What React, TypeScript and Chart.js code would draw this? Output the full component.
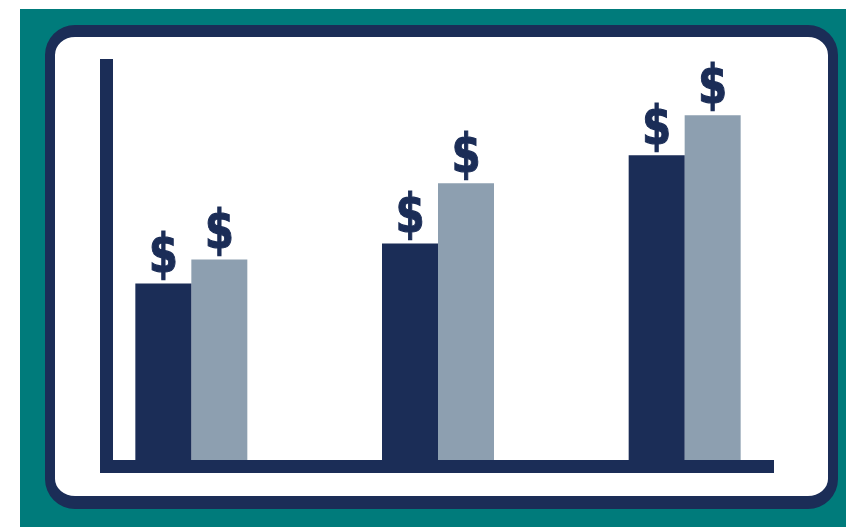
import React, { useEffect, useRef } from "react";
import { Chart, registerables } from "chart.js";

Chart.register(...registerables);

const categories = ["Year 1", "Year 2", "Year 3"];
const seriesA = [44, 54, 76];
const seriesB = [50, 69, 86];
const yMax = 100;

const NAVY = "#1b2d57";
const LIGHT = "#8d9fb0";
const TEAL = "#007b7b";

const decorPlugin = {
  id: "decor",
  afterDatasetsDraw(chart: any) {
    const { ctx, chartArea } = chart;
    ctx.save();
    // axis lines
    ctx.fillStyle = NAVY;
    const axisLeft = chartArea.left + 32;
    const axisW = 13;
    ctx.fillRect(axisLeft, chartArea.top, axisW, chartArea.bottom - chartArea.top + axisW);
    ctx.fillRect(axisLeft, chartArea.bottom, chartArea.right - 34 - axisLeft, axisW);
    // dollar signs
    ctx.font = "bold 56px 'DejaVu Sans', sans-serif";
    const m = ctx.measureText("$");
    const asc = m.actualBoundingBoxAscent;
    const desc = m.actualBoundingBoxDescent;
    const wid = m.actualBoundingBoxLeft + m.actualBoundingBoxRight;
    const sy = 49 / (asc + desc);
    const sx = 24 / wid;
    ctx.textAlign = "center";
    ctx.textBaseline = "alphabetic";
    ctx.strokeStyle = NAVY;
    ctx.lineWidth = 1.2;
    chart.data.datasets.forEach((_: any, di: number) => {
      const meta = chart.getDatasetMeta(di);
      meta.data.forEach((el: any) => {
        ctx.save();
        ctx.translate(el.x, el.y - 3 - desc * sy);
        ctx.scale(sx, sy);
        ctx.fillText("$", 0, 0);
        ctx.strokeText("$", 0, 0);
        ctx.restore();
      });
    });
    ctx.restore();
  },
};

export default function App() {
  const ref = useRef<HTMLCanvasElement>(null);
  useEffect(() => {
    if (!ref.current) return;
    const chart = new Chart(ref.current, {
      type: "bar",
      data: {
        labels: categories,
        datasets: [
          { label: "A", data: seriesA, backgroundColor: NAVY, borderWidth: 0 },
          { label: "B", data: seriesB, backgroundColor: LIGHT, borderWidth: 0 },
        ],
      },
      options: {
        responsive: false,
        animation: false,
        layout: { padding: { left: 68, right: 38, top: 59, bottom: 67 } },
        datasets: { bar: { barPercentage: 1, categoryPercentage: 0.454 } },
        plugins: { legend: { display: false }, tooltip: { enabled: false } },
        scales: {
          x: { display: false },
          y: { display: false, min: 0, max: yMax },
        },
      },
      plugins: [decorPlugin],
    });
    return () => chart.destroy();
  }, []);

  return (
    <div style={{ position: "fixed", left: 0, top: 0, width: 846, height: 527, background: "#fff", overflow: "hidden" }}>
      <div style={{ position: "absolute", left: 20, top: 9, right: 0, bottom: 0, background: TEAL }} />
      <div
        style={{
          position: "absolute",
          left: 45,
          top: 25,
          width: 838 - 45,
          height: 509 - 25,
          boxSizing: "border-box",
          borderStyle: "solid",
          borderColor: NAVY,
          borderWidth: "12px 10px 13px 10px",
          borderRadius: 30,
          background: "#fff",
        }}
      />
      <canvas ref={ref} width={846} height={527} style={{ position: "absolute", left: 0, top: 0 }} />
    </div>
  );
}
